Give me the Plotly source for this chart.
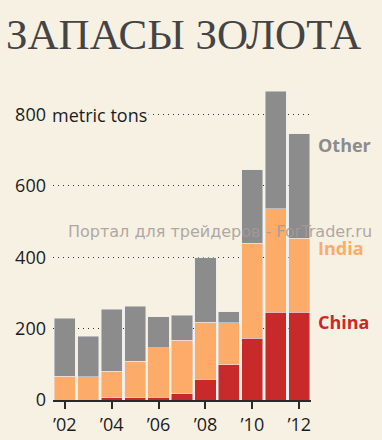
import plotly.graph_objects as go

years = [2002, 2003, 2004, 2005, 2006, 2007, 2008, 2009, 2010, 2011, 2012]
year_labels = ["’02", "’04", "’06", "’08", "’10", "’12"]
year_ticks = [2002, 2004, 2006, 2008, 2010, 2012]
totals = [229, 179, 255, 263, 233, 238, 398, 248, 645, 866, 746]
india_top = [66, 65, 80, 109, 147, 168, 218, 217, 440, 536, 453]
china = [0, 0, 6, 7, 8, 18, 58, 99, 173, 246, 246]
india = [a - b for a, b in zip(india_top, china)]
other = [a - b for a, b in zip(totals, india_top)]

y_ticks = [0, 200, 400, 600, 800]
y_labels = ["0", "200", "400", "600", "800"]

BG = "#f7f1e4"
C_CHINA = "#c8292a"
C_INDIA = "#fcab68"
C_OTHER = "#8c8c8c"
TXT = "#1c1c1c"
FONT = "Open Sans"

fig = go.Figure()
fig.add_bar(x=years, y=china, marker_color=C_CHINA, name="China")
fig.add_bar(x=years, y=india, marker_color=C_INDIA, name="India")
fig.add_bar(x=years, y=other, marker_color=C_OTHER, name="Other")

fig.update_layout(
    width=382, height=440,
    barmode="stack", bargap=0.1,
    paper_bgcolor=BG, plot_bgcolor=BG,
    showlegend=False,
    margin=dict(l=53, r=71, t=86, b=40, autoexpand=False),
    font=dict(family=FONT, size=18, color=TXT),
    title=dict(text="ЗАПАСЫ ЗОЛОТА", xref="container", yref="container",
               x=6 / 382, xanchor="left", y=1 - 34 / 440, yanchor="middle",
               font=dict(family="Liberation Serif", size=43, color="#444444")),
)
fig.update_xaxes(range=[2001.5, 2012.5], tickvals=year_ticks, ticktext=year_labels,
                 showgrid=False, showline=True, linecolor="#2a2a2a", linewidth=2,
                 ticks="outside", ticklen=7, tickwidth=2, tickcolor="#2a2a2a",
                 tickfont=dict(size=18, color=TXT), fixedrange=True, automargin=False)
fig.update_yaxes(range=[0, 880], tickvals=y_ticks, ticktext=y_labels,
                 showgrid=True, gridcolor="#333333", gridwidth=1, griddash="1px,4px",
                 zeroline=False, showline=False, ticks="", ticklabelstandoff=6,
                 tickfont=dict(size=18, color=TXT), fixedrange=True, automargin=False)

fig.add_annotation(text="metric tons", xref="paper", yref="y", x=0, y=800,
                   xanchor="left", yanchor="middle", xshift=-3, showarrow=False,
                   bgcolor=BG, font=dict(size=18, color=TXT))

for label, yv, col in [("Other", 714, C_OTHER), ("India", 425, C_INDIA), ("China", 218, C_CHINA)]:
    fig.add_annotation(text="<b>" + label + "</b>", xref="paper", yref="y", x=1, y=yv,
                       xanchor="left", yanchor="middle", xshift=5, showarrow=False,
                       font=dict(size=18, color=col, family=FONT))

fig.add_annotation(text="Портал для трейдеров - ForTrader.ru", xref="paper", yref="paper",
                   x=(66 - 53) / 258, y=(400 - 231) / 314, xanchor="left", yanchor="middle",
                   showarrow=False, opacity=0.85,
                   font=dict(family="DejaVu Sans", size=16, color="#a39b99"))

fig.write_html("out.html", config={"displayModeBar": False},
               post_script="document.body.style.margin='0';")
